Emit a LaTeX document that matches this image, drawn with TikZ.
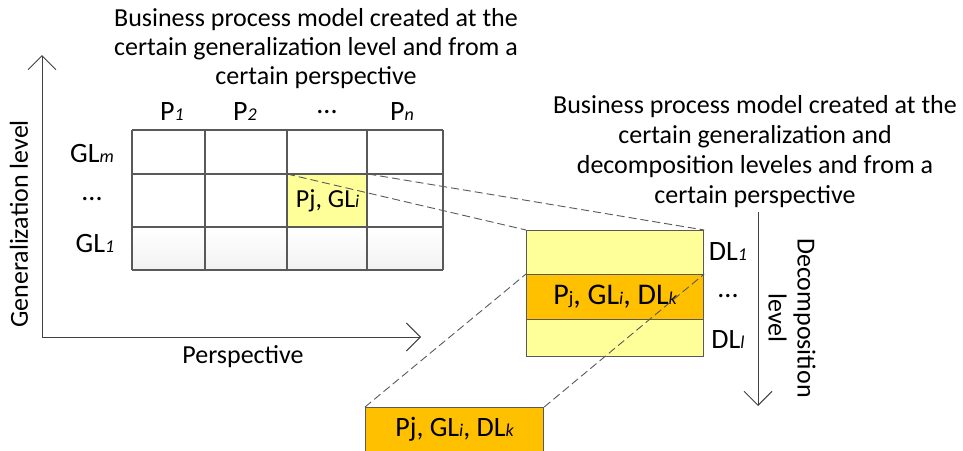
\documentclass[tikz,border=0pt]{standalone}
\usepackage{fontspec}
\setmainfont{Carlito}
\usetikzlibrary{arrows.meta,positioning,calc}
\definecolor{lightyel}{HTML}{FFFF99}
\definecolor{darkyel}{HTML}{FFC000}
\definecolor{edgegray}{HTML}{595959}
\newcommand{\lvl}[1]{{\fontsize{18}{18}\selectfont\itshape #1}}
\newcommand{\bigtext}{\fontsize{26}{29}\selectfont}

\begin{document}
\begin{tikzpicture}[x=1pt,y=-1pt,every node/.style={font=\fontsize{28}{30}\selectfont},
  band/.style={draw=edgegray,line width=1.2pt,minimum width=177pt,inner sep=0pt,anchor=north west},
  link/.style={edgegray,line width=0.9pt,dash pattern=on 8pt off 4pt},
  axisline/.style={black!75,line width=1pt,-{Straight Barb[length=14pt,width=28pt]}}]
\useasboundingbox (0,0) rectangle (963,450);
% perspective x generalization level grid
\shade[top color=white,bottom color=black!5] (132,227) rectangle (443,270);
\node[band,fill=lightyel,minimum width=80pt,minimum height=53pt,font=\bigtext] (cell) at (287,174) {\raisebox{-4pt}{Pj, GL\lvl{i}}};
\foreach \x in {132,205,287,367,443} \draw[edgegray,line width=1.2pt] (\x,130) -- (\x,270);
\foreach \y in {130,174,227,270} \draw[edgegray,line width=1.2pt] (132,\y) -- (443,\y);
\node (p1) at (172,112) {P\lvl{1}}; \node (p2) at (245,112) {P\lvl{2}};
\node (pdots) at (327,112) {...}; \node (pn) at (402,112) {P\lvl{n}};
\node (glm) at (92,154) {GL\lvl{m}}; \node (gldots) at (92,199) {...}; \node (gl1) at (95,244) {GL\lvl{1}};
\node[align=center,font=\bigtext] (gltext) at (316,49) {Business process model created at the\\certain generalization level and from a\\certain perspective};
% axes
\coordinate (orig) at (42,337); \coordinate (gtop) at (42,55); \coordinate (ptip) at (421,337);
\draw[axisline] (orig) -- (gtop); \draw[axisline] (orig) -- (ptip);
\node[rotate=90,font=\bigtext] (gen) at (19,224) {Generalization level};
\node[font=\bigtext] (persp) at (243,357) {Perspective};
% decomposition levels
\node[band,fill=lightyel,minimum height=44pt] (dl1) at (526,230) {};
\node[band,fill=darkyel,minimum height=45pt,font=\fontsize{30}{32}\selectfont] (dlk) at (526,274) {P{\fontsize{19}{19}\selectfont j}, GL\lvl{i}, DL\lvl{k}};
\node[band,fill=lightyel,minimum height=37pt] (dll) at (526,319) {};
\node (dla) at (728,252) {DL\lvl{1}}; \node (dlb) at (728,296) {...}; \node (dlc) at (728,340) {DL\lvl{l}};
\node[align=center,font=\fontsize{26}{30}\selectfont] (dltext) at (755,152) {Business process model created at the\\certain generalization and\\decomposition leveles and from a\\certain perspective};
\coordinate (dtop) at (758,212); \coordinate (dbot) at (758,406);
\draw[axisline] (dtop) -- (dbot);
\node[rotate=-90,align=center,font=\bigtext] (dec) at (792,318) {Decomposition\\level};
\node[band,fill=darkyel,minimum width=178pt,minimum height=44pt,font=\fontsize{28}{30}\selectfont] (sel) at (365,407) {Pj, GL\lvl{i}, DL\lvl{k}};
% projections
\draw[link] (cell.north west) -- (dl1.north west); \draw[link] (cell.north east) -- (dl1.north east);
\draw[link] (sel.north west) -- (dlk.north west); \draw[link] (sel.north east) -- (dlk.north east);
\end{tikzpicture}
\end{document}
